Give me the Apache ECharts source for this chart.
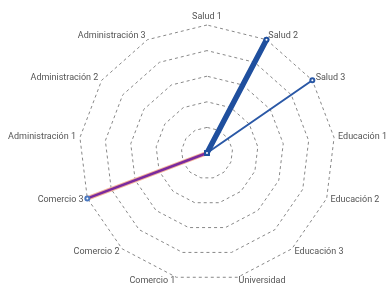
<!DOCTYPE html>
<html>
<head>
<meta charset="utf-8">
<script src="https://cdn.jsdelivr.net/npm/echarts@6/dist/echarts.min.js"></script>
<style>html,body{margin:0;padding:0;background:#fff}#c{width:388px;height:291px}</style>
</head>
<body>
<div id="c"></div>
<script>
const categories = ["Salud 1","Salud 2","Salud 3","Educación 1","Educación 2","Educación 3","Universidad","Comercio 1","Comercio 2","Comercio 3","Administración 1","Administración 2","Administración 3"];
const maxValue = 1;
const serieSalud2 = [0,1,0,0,0,0,0,0,0,0,0,0,0];
const serieSalud3 = [0,0,1,0,0,0,0,0,0,0,0,0,0];
const serieComercio3 = [0,0,0,0,0,0,0,0,0,1,0,0,0];

// ECharts radar runs counter-clockwise; reorder (keeping the first) to draw clockwise
const cw = arr => [arr[0]].concat(arr.slice(1).reverse());

const chart = echarts.init(document.getElementById('c'));
chart.setOption({
  animation: false,
  radar: {
    center: [207, 153],
    radius: 128,
    startAngle: 90,
    splitNumber: 5,
    indicator: cw(categories).map(n => ({ name: n, max: maxValue, min: 0 })),
    axisName: { color: '#555', fontSize: 9, fontFamily: 'Roboto, sans-serif' },
    nameGap: 4,
    axisLine: { show: false },
    axisTick: { show: false },
    splitArea: { show: false },
    splitLine: { lineStyle: { color: '#888', type: [3, 3], width: 1 } }
  },
  series: [{
    type: 'radar',
    symbol: 'emptyCircle',
    symbolSize: 4,
    data: [
      { value: cw(serieComercio3), lineStyle: { color: '#f4b49a', width: 4.5 }, symbol: 'none' },
      { value: cw(serieComercio3), lineStyle: { color: '#7a2a9e', width: 2.5 }, itemStyle: { color: '#4a78c0', borderColor: '#4a78c0', borderWidth: 1 } },
      { value: cw(serieSalud3), lineStyle: { color: '#2a58a6', width: 2 }, itemStyle: { color: '#2a58a6', borderColor: '#2a58a6', borderWidth: 1 } },
      { value: cw(serieSalud2), lineStyle: { color: '#1f4f9e', width: 5.5 }, itemStyle: { color: '#1f4f9e', borderColor: '#1f4f9e', borderWidth: 1 } }
    ]
  }]
});
</script>
</body>
</html>
